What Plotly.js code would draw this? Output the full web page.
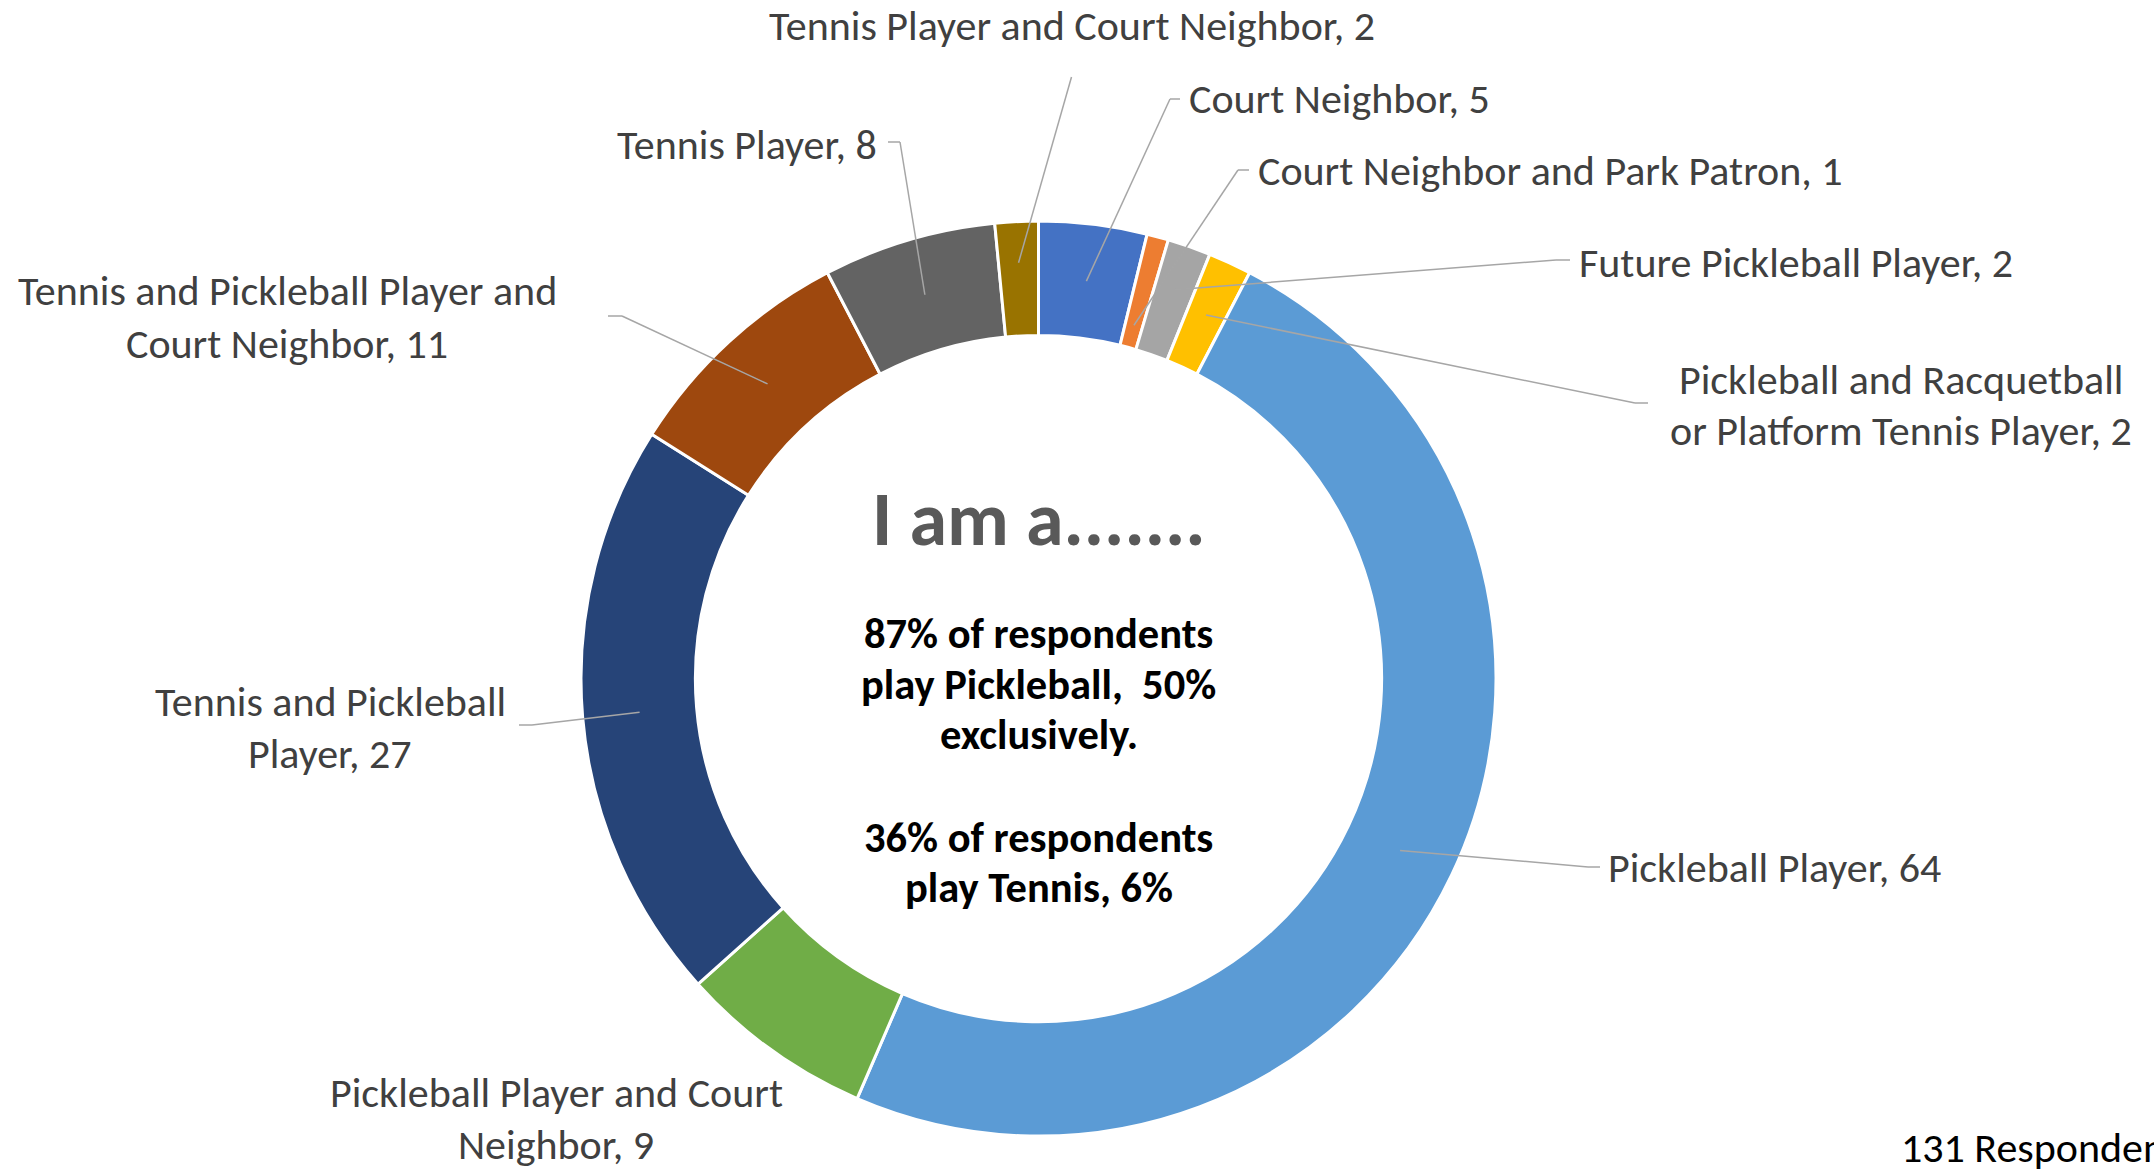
<!DOCTYPE html>
<html>
<head>
<meta charset="utf-8">
<script src="https://cdn.plot.ly/plotly-3.0.1.min.js"></script>
<style>
  html, body { margin: 0; padding: 0; background: #ffffff; }
  #chart { width: 2154px; height: 1172px; }
</style>
</head>
<body>
<div id="chart"></div>
<script>
// ---------- DATA ----------
const categories = [
  "Court Neighbor",
  "Court Neighbor and Park Patron",
  "Future Pickleball Player",
  "Pickleball and Racquetball or Platform Tennis Player",
  "Pickleball Player",
  "Pickleball Player and Court Neighbor",
  "Tennis and Pickleball Player",
  "Tennis and Pickleball Player and Court Neighbor",
  "Tennis Player",
  "Tennis Player and Court Neighbor"
];
const values = [5, 1, 2, 2, 64, 9, 27, 11, 8, 2];
const centerTitle = "I am a.......";
const centerNote = [
  "87% of respondents",
  "play Pickleball,\u00a0 50%",
  "exclusively.",
  "",
  "36% of respondents",
  "play Tennis, 6%"
];
const respondentsNote = "131 Respondents";

// ---------- STYLE / LAYOUT ----------
const sliceColors = ["#4472C4", "#ED7D31", "#A5A5A5", "#FFC000", "#5B9BD5",
                     "#70AD47", "#264478", "#9E480E", "#636363", "#997300"];
const W = 2154, H = 1172;
const cx = 1038.5, cy = 678.6, R = 457.5, HOLE = 0.75;
const FONT = "Carlito, Calibri, Lato, 'Open Sans', sans-serif";
const LABEL_SIZE = 42;
const LABEL_LINE_STEP = 52;
const labelColor = "#404040";
const leaderColor = "#A6A6A6";

// words on first line (0 = no wrap)
const wrapWords = [0, 0, 0, 3, 0, 4, 3, 5, 0, 0];
// label placement in pixels (layout only)
const labelPos = [
  {x: 1188, y: 99,   xa: "left",   to: [1180, 99],  elbow: [1170, 99],  rf: 0.875},
  {x: 1257, y: 170,  xa: "left",   to: [1249, 170], elbow: [1238, 170], rf: 0.80},
  {x: 1578, y: 262,  xa: "left",   to: [1570, 260], elbow: [1556, 260], rf: 0.90},
  {x: 1901, y: 405,  xa: "center", to: [1648, 403], elbow: [1635, 403], rf: 0.875},
  {x: 1607, y: 867,  xa: "left",   to: [1600, 867], elbow: [1588, 867], rf: 0.875},
  {x: 556,  y: 1118, xa: "center", to: null},
  {x: 330,  y: 727,  xa: "center", to: [519, 725],  elbow: [532, 725],  rf: 0.875},
  {x: 287,  y: 317,  xa: "center", to: [608, 316],  elbow: [622, 316],  rf: 0.875},
  {x: 878,  y: 144,  xa: "right",  to: [888, 142],  elbow: [900, 142],  rf: 0.875},
  {x: 1071.5, y: 25, xa: "center", to: [1071.5, 77], elbow: [1071.5, 77], rf: 0.91}
];
const noteTop = 633, noteStep = 51;

const px2x = p => p / W;
const px2y = p => 1 - p / H;

// ---------- BUILD ----------
const total = values.reduce((a, b) => a + b, 0);
let cum = 0;
const midAngles = values.map(v => { const m = (cum + v / 2) / total * 360; cum += v; return m; });

const annotations = [];
const shapes = [];
categories.forEach((c, i) => {
  const full = c + ", " + values[i];
  let lines = [full];
  if (wrapWords[i] > 0) {
    const w = full.split(" ");
    lines = [w.slice(0, wrapWords[i]).join(" "), w.slice(wrapWords[i]).join(" ")];
  }
  const lp = labelPos[i];
  lines.forEach((ln, k) => {
    const yy = lp.y + (k - (lines.length - 1) / 2) * LABEL_LINE_STEP;
    annotations.push({
      text: ln, xref: "paper", yref: "paper",
      x: px2x(lp.x), y: px2y(yy), xanchor: lp.xa, yanchor: "middle",
      align: "center", showarrow: false, borderpad: 0,
      font: {family: FONT, size: LABEL_SIZE, color: labelColor}
    });
  });
  if (lp.to) {
    const th = midAngles[i] * Math.PI / 180;
    const r = R * lp.rf;
    const sx = cx + r * Math.sin(th), sy = cy - r * Math.cos(th);
    const segs = [[[sx, sy], lp.elbow], [lp.elbow, lp.to]];
    segs.forEach(s => {
      shapes.push({
        type: "line", xref: "paper", yref: "paper",
        x0: px2x(s[0][0]), y0: px2y(s[0][1]), x1: px2x(s[1][0]), y1: px2y(s[1][1]),
        line: {color: leaderColor, width: 1.5}
      });
    });
  }
});

annotations.push({
  text: centerTitle, xref: "paper", yref: "paper",
  x: px2x(1038.5), y: px2y(519), xanchor: "center", yanchor: "middle",
  showarrow: false,
  font: {family: FONT, size: 76, color: "#595959", weight: "bold"}
});
centerNote.forEach((line, k) => {
  if (!line) return;
  annotations.push({
    text: line, xref: "paper", yref: "paper",
    x: px2x(1038.5), y: px2y(noteTop + k * noteStep), xanchor: "center", yanchor: "middle",
    align: "center", showarrow: false,
    font: {family: FONT, size: 42.5, color: "#000000", weight: "bold"}
  });
});
annotations.push({
  text: respondentsNote, xref: "paper", yref: "paper",
  x: px2x(1900), y: px2y(1147), xanchor: "left", yanchor: "middle",
  showarrow: false, borderpad: 0,
  font: {family: FONT, size: LABEL_SIZE, color: "#000000"}
});

const trace = {
  type: "pie",
  labels: categories,
  values: values,
  sort: false,
  direction: "clockwise",
  rotation: 0,
  hole: HOLE,
  textinfo: "none",
  hoverinfo: "label+value",
  marker: {colors: sliceColors, line: {color: "#ffffff", width: 3}},
  domain: {
    x: [(cx - R) / W, (cx + R) / W],
    y: [(H - cy - R) / H, (H - cy + R) / H]
  }
};

const layout = {
  width: W, height: H,
  margin: {l: 0, r: 0, t: 0, b: 0},
  paper_bgcolor: "#ffffff",
  showlegend: false,
  annotations: annotations,
  shapes: shapes
};

Plotly.newPlot("chart", [trace], layout, {displayModeBar: false, staticPlot: true});
</script>
</body>
</html>
